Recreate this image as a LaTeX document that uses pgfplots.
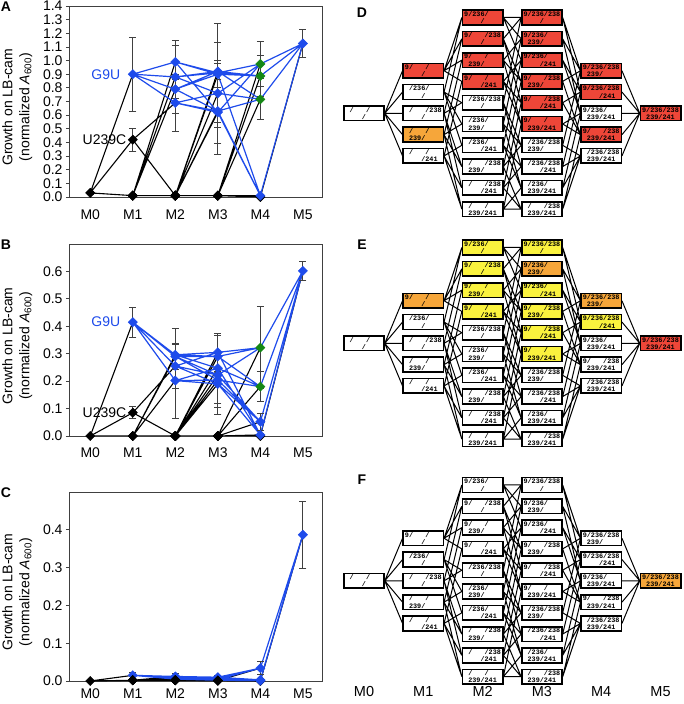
\documentclass[border=0pt]{standalone}
\usepackage{pgfplots}
\pgfplotsset{compat=1.18}
\usepackage{pgfplotstable}
\usepackage{fontspec}
\setmainfont{Liberation Sans}
\setmonofont{Liberation Mono}
\definecolor{myblue}{RGB}{30,75,235}
\definecolor{mygreen}{RGB}{20,135,20}
\definecolor{netred}{RGB}{238,70,56}
\definecolor{netorange}{RGB}{246,166,58}
\definecolor{netyellow}{RGB}{250,242,62}

% growth values: panel A
\pgfplotstableread{
name level value err cls
o 0 0.03 0.010 k
a 1 0.90 0.270 b
b 1 0.01 0.005 k
c 1 0.01 0.005 k
d 1 0.42 0.085 k
e 1 0.01 0.005 k
ab 2 0.99 0.120 b
ac 2 0.88 0.270 b
ad 2 0.69 0.210 b
ae 2 0.79 0.070 b
bc 2 0.01 0.005 k
bd 2 0.01 0.005 k
be 2 0.01 0.005 k
cd 2 0.01 0.005 k
ce 2 0.01 0.005 k
de 2 0.01 0.005 k
abc 3 0.91 0.360 b
abd 3 0.62 0.310 b
abe 3 0.90 0.100 b
acd 3 0.76 0.370 b
ace 3 0.92 0.060 b
ade 3 0.63 0.120 b
bcd 3 0.01 0.005 k
bce 3 0.01 0.005 k
bde 3 0.01 0.005 k
cde 3 0.01 0.005 k
bcde 4 0.00 0.003 k
abde 4 0.01 0.005 b
abcd 4 0.975 0.165 g
abce 4 0.887 0.150 g
acde 4 0.716 0.150 g
abcde 5 1.125 0.105 b
}\tabA

% panel B
\pgfplotstableread{
name level value err cls
o 0 0.00 0.002 k
a 1 0.415 0.055 b
b 1 0.00 0.002 k
c 1 0.00 0.002 k
d 1 0.085 0.021 k
e 1 0.00 0.002 k
ab 2 0.296 0.097 b
ac 2 0.29 0.046 b
ad 2 0.255 0.080 b
ae 2 0.202 0.137 b
bc 2 0.00 0.002 k
bd 2 0.00 0.002 k
be 2 0.00 0.002 k
cd 2 0.00 0.002 k
ce 2 0.00 0.002 k
de 2 0.00 0.002 k
abc 3 0.29 0.085 b
abd 3 0.305 0.070 b
abe 3 0.247 0.128 b
acd 3 0.222 0.145 b
ace 3 0.204 0.100 b
ade 3 0.19 0.110 b
bcd 3 0.00 0.002 k
bce 3 0.00 0.002 k
bde 3 0.00 0.002 k
cde 3 0.00 0.002 k
bcde 4 0.00 0.002 k
abde 4 0.004 0.004 b
acde 4 0.052 0.030 b
abcd 4 0.322 0.150 g
abce 4 0.18 0.055 g
abcde 5 0.602 0.034 b
}\tabB

% panel C
\pgfplotstableread{
name level value err cls
o 0 0.00 0.001 k
a 1 0.015 0.008 b
b 1 0.002 0.001 k
c 1 0.002 0.001 k
d 1 0.002 0.001 k
e 1 0.002 0.001 k
ab 2 0.012 0.008 b
ac 2 0.010 0.006 b
ad 2 0.008 0.005 b
ae 2 0.005 0.004 b
bc 2 0.002 0.001 k
bd 2 0.002 0.001 k
be 2 0.002 0.001 k
cd 2 0.002 0.001 k
ce 2 0.002 0.001 k
de 2 0.002 0.001 k
abc 3 0.010 0.005 b
abd 3 0.008 0.004 b
abe 3 0.006 0.004 b
acd 3 0.004 0.003 b
ace 3 0.003 0.002 b
ade 3 0.002 0.002 b
bcd 3 0.001 0.001 k
bce 3 0.001 0.001 k
bde 3 0.001 0.001 k
cde 3 0.001 0.001 k
bcde 4 0.00 0.001 k
abce 4 0.003 0.002 b
abde 4 0.002 0.002 b
acde 4 0.001 0.001 b
abcd 4 0.034 0.017 b
abcde 5 0.387 0.088 b
}\tabC

% network layout: level (column) and row
\pgfplotstableread{
name level row
o 0 4.5
a 1 2.5
b 1 3.5
c 1 4.5
d 1 5.5
e 1 6.5
ab 2 0
ac 2 1
ad 2 2
ae 2 3
bc 2 4
bd 2 5
be 2 6
cd 2 7
ce 2 8
de 2 9
abc 3 0
abd 3 1
abe 3 2
acd 3 3
ace 3 4
ade 3 5
bcd 3 6
bce 3 7
bde 3 8
cde 3 9
abcd 4 2.5
abce 4 3.5
abde 4 4.5
acde 4 5.5
bcde 4 6.5
abcde 5 4.5
}\netnodes

\def\edgelist{o/a,o/b,o/c,o/d,o/e,a/ab,a/ac,a/ad,a/ae,b/ab,b/bc,b/bd,b/be,c/ac,c/bc,c/cd,c/ce,d/ad,d/bd,d/cd,d/de,e/ae,e/be,e/ce,e/de,ab/abc,ab/abd,ab/abe,ac/abc,ac/acd,ac/ace,ad/abd,ad/acd,ad/ade,ae/abe,ae/ace,ae/ade,bc/abc,bc/bcd,bc/bce,bd/abd,bd/bcd,bd/bde,be/abe,be/bce,be/bde,cd/acd,cd/bcd,cd/cde,ce/ace,ce/bce,ce/cde,de/ade,de/bde,de/cde,abc/abcd,abc/abce,abd/abcd,abd/abde,abe/abce,abe/abde,acd/abcd,acd/acde,ace/abce,ace/acde,ade/abde,ade/acde,bcd/abcd,bcd/bcde,bce/abce,bce/bcde,bde/abde,bde/bcde,cde/acde,cde/bcde,abcd/abcde,abce/abcde,abde/abcde,acde/abcde,bcde/abcde}

\makeatletter
\newcommand\mapvalues[2]{%
  \foreach \i in {0,...,31}{%
    \pgfplotstablegetelem{\i}{name}\of#2\edef\nm{\pgfplotsretval}%
    \pgfplotstablegetelem{\i}{value}\of#2\expandafter\xdef\csname v#1@\nm\endcsname{\pgfplotsretval}%
    \pgfplotstablegetelem{\i}{level}\of#2\expandafter\xdef\csname lv@\nm\endcsname{\pgfplotsretval}%
  }}
\mapvalues{A}{\tabA}
\mapvalues{B}{\tabB}
\mapvalues{C}{\tabC}
\foreach \i in {0,...,31}{%
  \pgfplotstablegetelem{\i}{name}\of\netnodes\edef\nm{\pgfplotsretval}%
  \pgfplotstablegetelem{\i}{row}\of\netnodes\expandafter\xdef\csname rw@\nm\endcsname{\pgfplotsretval}%
}
\newcommand\buildedges[1]{%
  \gdef\tmpK{}\gdef\tmpB{}%
  \foreach \src/\tgt in \edgelist {%
    \edef\seg{(\csname lv@\src\endcsname,\csname v#1@\src\endcsname) (\csname lv@\tgt\endcsname,\csname v#1@\tgt\endcsname) (\csname lv@\tgt\endcsname,nan) }%
    \edef\tst{\noexpand\in@{a}{\src}}\tst
    \ifin@\xdef\tmpB{\tmpB\seg}\else\xdef\tmpK{\tmpK\seg}\fi
  }%
  \expandafter\global\expandafter\let\csname edgesK#1\endcsname\tmpK
  \expandafter\global\expandafter\let\csname edgesB#1\endcsname\tmpB
}
\buildedges{A}\buildedges{B}\buildedges{C}
\gdef\tmpN{}
\foreach \src/\tgt in \edgelist {%
  \edef\lva{\csname lv@\src\endcsname}\edef\lvb{\csname lv@\tgt\endcsname}%
  \edef\rwa{\csname rw@\src\endcsname}\edef\rwb{\csname rw@\tgt\endcsname}%
  \pgfmathsetmacro\xa{\lva+0.35}\pgfmathsetmacro\xb{\lvb-0.35}%
  \pgfmathsetmacro\ya{-\rwa}\pgfmathsetmacro\yb{-\rwb}%
  \xdef\tmpN{\tmpN(\xa,\ya) (\xb,\yb) (\xb,nan) }%
}
\global\let\netedges\tmpN
\newcommand\setcols[3]{\foreach \n in {#3}{\expandafter\xdef\csname col#1@\n\endcsname{#2}}}
\setcols{D}{netred}{a,ab,ac,ad,ae,abc,abd,abe,acd,ace,ade,abcd,abce,acde,abcde}
\setcols{D}{netorange}{d}
\setcols{E}{netorange}{a,abd,abcd}
\setcols{E}{netyellow}{ab,ac,ad,ae,abc,abe,acd,ace,ade,abce}
\setcols{E}{netred}{abcde}
\setcols{F}{netorange}{abcde}
\newcommand\mk[2]{\edef\tst{\noexpand\in@{#1}{\nm}}\tst\ifin@#2\else\phantom{#2}\fi}
\newcommand\netbox[2]{%
  \edef\nm{#2}%
  \expandafter\ifx\csname col#1@\nm\endcsname\relax\def\bc{white}\else\edef\bc{\csname col#1@\nm\endcsname}\fi
  \setlength\fboxrule{1.6pt}\setlength\fboxsep{0.5pt}%
  \fcolorbox{black}{\bc}{\parbox[c][12.1pt][c]{37.8pt}{\centering\ttfamily\bfseries\fontsize{6.8}{7.2}\selectfont
    \mk{a}{9}/\mk{b}{236}/\mk{c}{238}\\\mk{d}{239}/\mk{e}{241}}}}
\makeatother

\tikzset{
  glab/.style={anchor=east, text=myblue, font=\fontsize{14}{16}\selectfont, xshift=-9pt},
  ulab/.style={anchor=east, text=black, font=\fontsize{14}{16}\selectfont, xshift=-3pt}
}

\pgfplotsset{
  kline/.style={black, line width=1.1pt, mark=none, unbounded coords=jump, forget plot},
  bline/.style={myblue, line width=1.2pt, mark=none, unbounded coords=jump, forget plot},
  markers/.style={scatter, only marks, scatter src=explicit symbolic,
    scatter/classes={k={mark=square*, draw=black, fill=black}, b={mark=square*, draw=myblue, fill=myblue}, g={mark=square*, draw=mygreen, fill=mygreen}},
    mark size=3.3pt, mark options={rotate=45},
    error bars/.cd, y dir=both, y explicit,
    error bar style={black!75, line width=0.9pt},
    error mark options={rotate=90, black!75, mark size=3.5pt, line width=0.9pt}},
  panel/.style={scale only axis, width=253pt, xmin=-0.5, xmax=5.45, ymin=0,
    anchor=south west,
    xtick={0,...,5}, xticklabels={M0,M1,M2,M3,M4,M5}, xtick style={draw=none},
    ytick pos=left, tick align=outside, major tick length=3pt,
    axis line style={black!75, line width=0.8pt}, ytick style={black!75, line width=0.8pt},
    tick label style={font=\fontsize{14}{16}\selectfont},
    yticklabel style={/pgf/number format/.cd, fixed, fixed zerofill, precision=1, assume math mode=true},
    ylabel={Growth on LB-cam\\(normalized \textit{A}\textsubscript{600})},
    every axis y label/.style={at={(axis description cs:-0.205,0.47)}, rotate=90, anchor=center, align=center, font=\fontsize{14}{17}\selectfont}},
  net/.style={scale only axis, width=355.8pt, height=234.3pt, xmin=-0.5, xmax=5.5, ymin=-10, ymax=1,
    hide axis, clip=false, anchor=south west},
  netedge/.style={black, line width=1pt, mark=none, unbounded coords=jump, forget plot},
  netbox/.style={only marks, mark=*, mark options={draw=none, fill=none}, point meta=explicit symbolic,
    nodes near coords={\netbox{#1}{\pgfplotspointmeta}},
    every node near coord/.append style={anchor=center, inner sep=0pt}}
}

\begin{document}
\begin{tikzpicture}
\useasboundingbox (0,0) rectangle (683pt,704pt);

% ---------- A ----------
\begin{axis}[panel, at={(69pt,507pt)}, height=191pt, ymax=1.4, xticklabel style={yshift=-6pt},
  ytick={0,0.1,0.2,0.3,0.4,0.5,0.6,0.7,0.8,0.9,1.0,1.1,1.2,1.3,1.4}]
\edef\tmp{\noexpand\addplot[kline] coordinates {\edgesKA};}\tmp
\edef\tmp{\noexpand\addplot[bline] coordinates {\edgesBA};}\tmp
\addplot[markers] table[x=level, y=value, y error=err, meta=cls] {\tabA};
\node[glab] at (axis cs:1,0.90) {G9U};
\node[ulab] at (axis cs:1,0.42) {U239C};
\end{axis}

% ---------- B ----------
\begin{axis}[panel, at={(69pt,268pt)}, height=192pt, ymax=0.7, xticklabel style={yshift=-5pt},
  ytick={0,0.1,0.2,0.3,0.4,0.5,0.6}]
\edef\tmp{\noexpand\addplot[kline] coordinates {\edgesKB};}\tmp
\edef\tmp{\noexpand\addplot[bline] coordinates {\edgesBB};}\tmp
\addplot[markers] table[x=level, y=value, y error=err, meta=cls] {\tabB};
\node[glab] at (axis cs:1,0.415) {G9U};
\node[ulab] at (axis cs:1,0.085) {U239C};
\end{axis}

% ---------- C ----------
\begin{axis}[panel, at={(69pt,23pt)}, height=189pt, ymax=0.5,
  ytick={0,0.1,0.2,0.3,0.4}, xticklabel style={yshift=-1.5pt}]
\edef\tmp{\noexpand\addplot[kline] coordinates {\edgesKC};}\tmp
\edef\tmp{\noexpand\addplot[bline] coordinates {\edgesBC};}\tmp
\addplot[markers] table[x=level, y=value, y error=err, meta=cls] {\tabC};
\end{axis}

% ---------- D ----------
\begin{axis}[net, at={(334.35pt,473.5pt)}]
\edef\tmp{\noexpand\addplot[netedge] coordinates {\netedges};}\tmp
\addplot[netbox=D] table[x=level, y expr=-\thisrow{row}, meta=name] {\netnodes};
\end{axis}

% ---------- E ----------
\begin{axis}[net, at={(334.35pt,243.5pt)}]
\edef\tmp{\noexpand\addplot[netedge] coordinates {\netedges};}\tmp
\addplot[netbox=E] table[x=level, y expr=-\thisrow{row}, meta=name] {\netnodes};
\end{axis}

% ---------- F ----------
\begin{axis}[net, at={(334.35pt,6pt)}]
\edef\tmp{\noexpand\addplot[netedge] coordinates {\netedges};}\tmp
\addplot[netbox=F] table[x=level, y expr=-\thisrow{row}, meta=name] {\netnodes};
\pgfplotsinvokeforeach{0,...,5}{\node[font=\fontsize{14.5}{16}\selectfont] at (axis cs:#1,-9.7) {M#1};}
\end{axis}

% panel letters
\begin{scope}[every node/.style={font=\bfseries\fontsize{14}{16}\selectfont}]
\node at (6pt,697pt) {A};
\node at (6pt,459pt) {B};
\node at (6pt,211pt) {C};
\node at (362pt,691pt) {D};
\node at (362pt,459pt) {E};
\node at (362pt,224pt) {F};
\end{scope}
\end{tikzpicture}
\end{document}
